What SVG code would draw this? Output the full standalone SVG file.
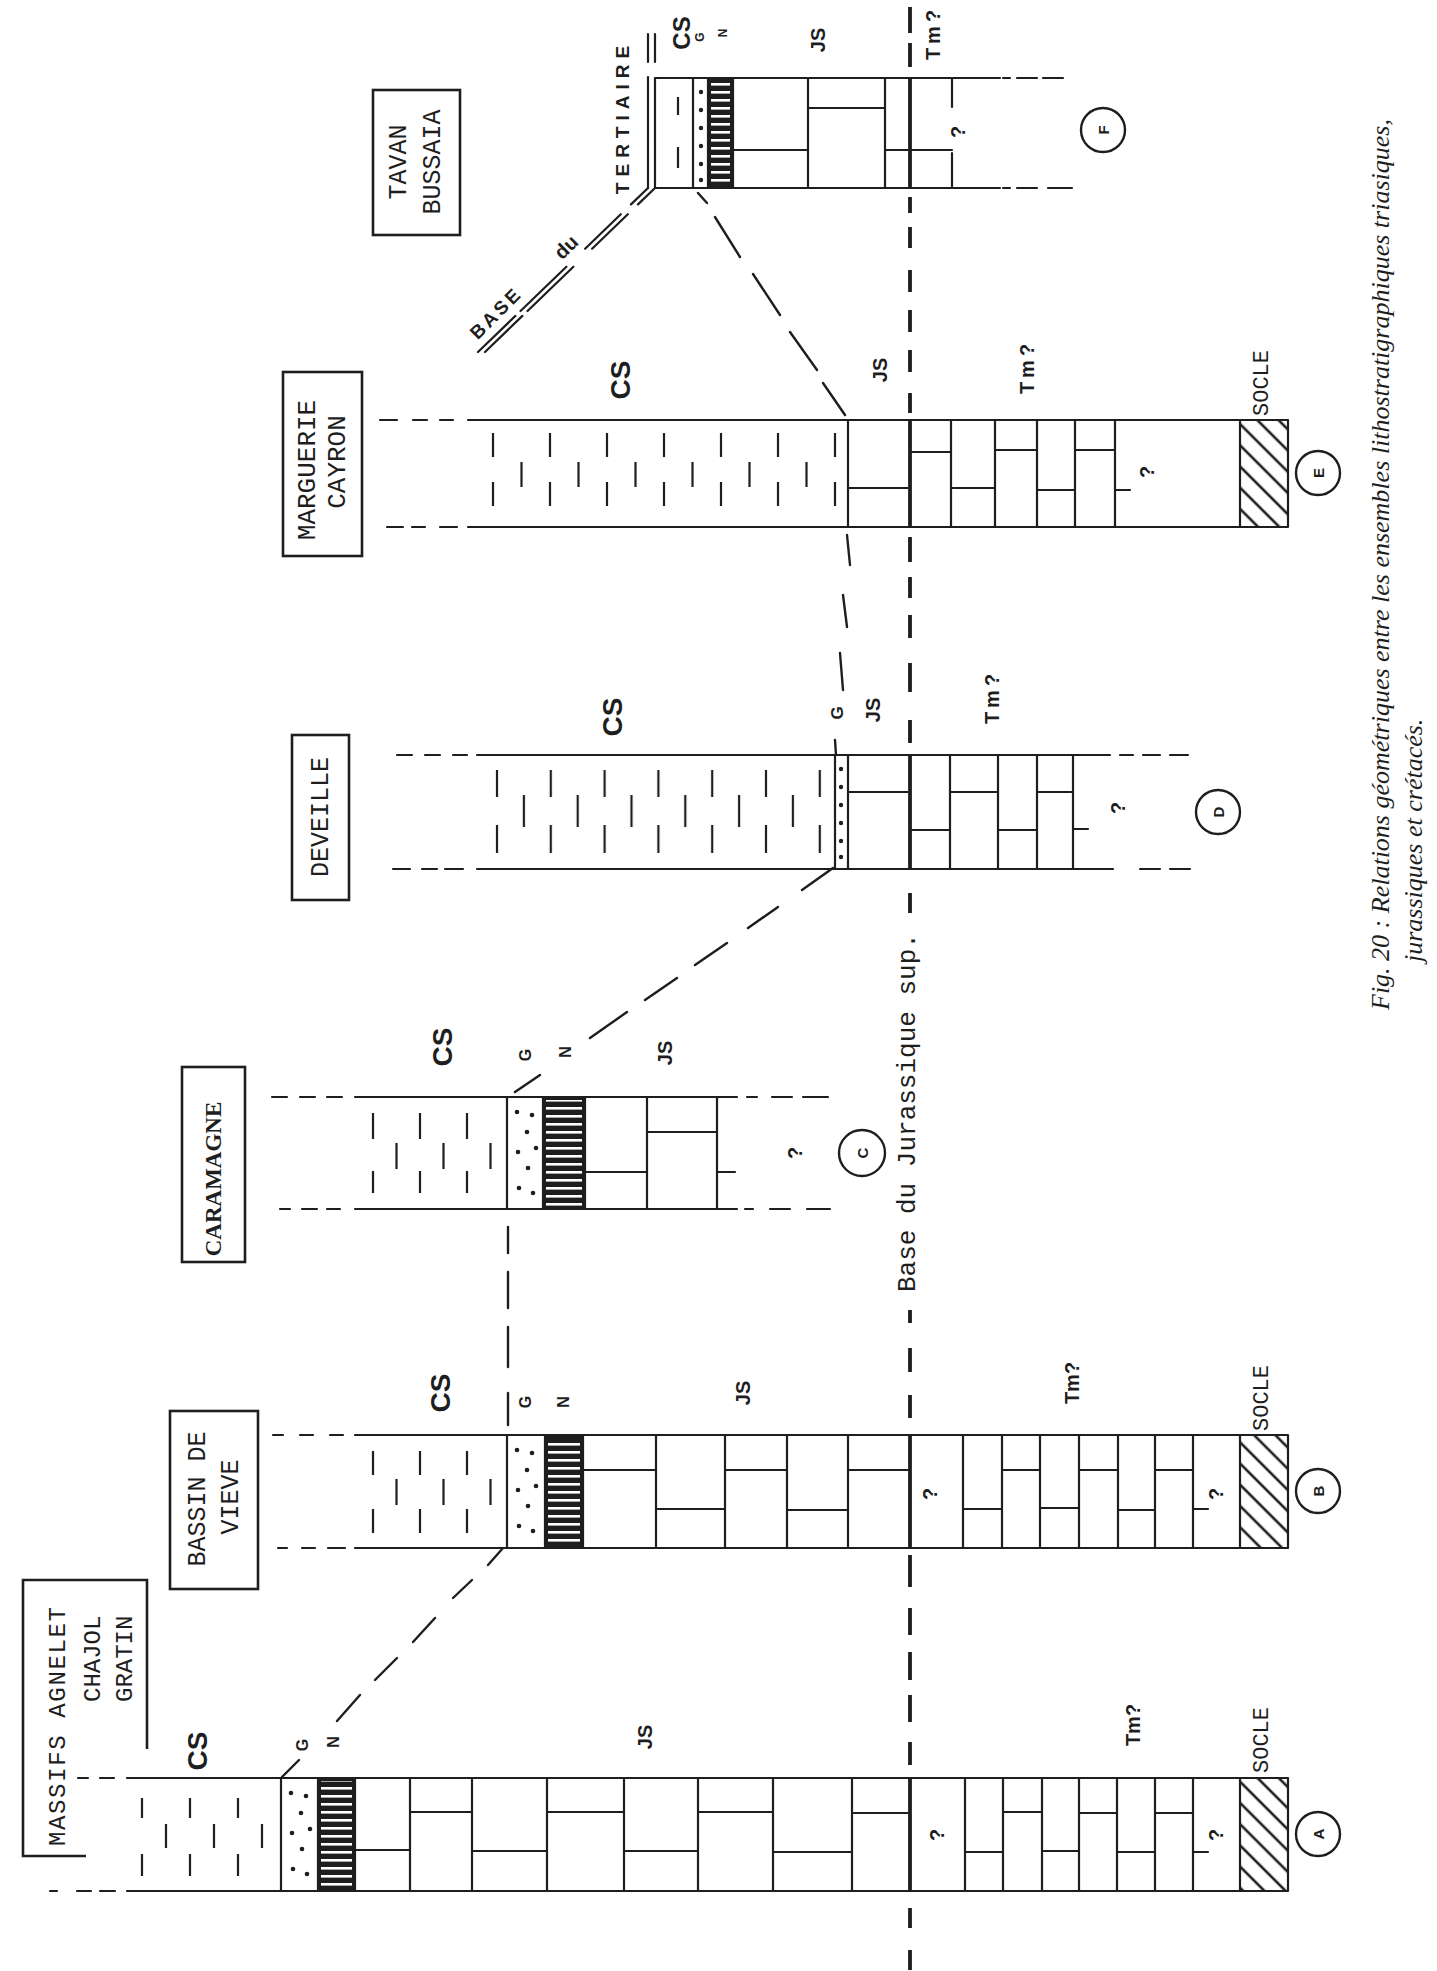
<svg xmlns="http://www.w3.org/2000/svg" xmlns:xlink="http://www.w3.org/1999/xlink" width="1437" height="1971" viewBox="0 0 1437 1971">
<style>
.l{stroke:#1e1e1e;stroke-width:2.2;fill:none;stroke-linecap:round}
.lb{stroke:#1e1e1e;stroke-width:3.8;fill:none}
.d{stroke:#1e1e1e;stroke-width:2.4;fill:none;stroke-linecap:round}
.box{stroke:#1e1e1e;stroke-width:2.6;fill:none}
.pd{stroke:#1e1e1e;stroke-width:2.2;fill:none}
.nb{fill:#1e1e1e}
.dot{fill:#1e1e1e}
.tb{font-family:"Liberation Mono","Courier New",monospace;fill:#1e1e1e;dominant-baseline:central}
.lab{font-family:"Liberation Sans",Arial,sans-serif;font-weight:bold;fill:#1e1e1e;text-anchor:middle;dominant-baseline:central}
.cap{font-family:"Liberation Serif","Times New Roman",serif;font-style:italic;fill:#1e1e1e;font-size:26px;dominant-baseline:central}
.circ{stroke:#1e1e1e;stroke-width:2.4;fill:none}
</style>
<defs>
<pattern id="csA" patternUnits="userSpaceOnUse" x="140" y="1778" width="48" height="300"><path class="pd" d="M2 20V40M2 76V98M26 46V70"/></pattern>
<pattern id="csB" patternUnits="userSpaceOnUse" x="371" y="1435" width="47" height="300"><path class="pd" d="M2 16V40M2 74V98M25.5 44V70"/></pattern>
<pattern id="csC" patternUnits="userSpaceOnUse" x="371" y="1097" width="47" height="300"><path class="pd" d="M2 16V42M2 74V96M25.5 46V72"/></pattern>
<pattern id="csD" patternUnits="userSpaceOnUse" x="495" y="755" width="53.8" height="300"><path class="pd" d="M2 15V42M2 70V98M28.9 40V72"/></pattern>
<pattern id="csE" patternUnits="userSpaceOnUse" x="491" y="420" width="57" height="300"><path class="pd" d="M2 13V37M2 62V86M30.5 42V67"/></pattern>
<pattern id="csF" patternUnits="userSpaceOnUse" x="676" y="78" width="100" height="300"><path class="pd" d="M2 19V37M2 69V90"/></pattern>
<pattern id="nh" patternUnits="userSpaceOnUse" x="0" y="0" width="20" height="8"><rect x="0" y="3" width="20" height="2.6" fill="#ffffff"/></pattern>
<pattern id="hatch" patternUnits="userSpaceOnUse" width="15" height="15" patternTransform="rotate(-45)"><path d="M7 -2V17" stroke="#1e1e1e" stroke-width="2.6"/></pattern>
<g id="gd3">
<circle class="dot" cx="10" cy="15" r="2.3"/><circle class="dot" cx="25" cy="18" r="2.3"/><circle class="dot" cx="20" cy="35" r="2.3"/><circle class="dot" cx="11" cy="55" r="2.3"/><circle class="dot" cx="29" cy="51" r="2.3"/><circle class="dot" cx="21" cy="71" r="2.3"/><circle class="dot" cx="12" cy="91" r="2.3"/><circle class="dot" cx="26" cy="96" r="2.3"/>
</g>
<g id="gd1">
<circle class="dot" cx="0" cy="14" r="2.2"/><circle class="dot" cx="0" cy="32" r="2.2"/><circle class="dot" cx="0" cy="50" r="2.2"/><circle class="dot" cx="0" cy="68" r="2.2"/><circle class="dot" cx="0" cy="86" r="2.2"/><circle class="dot" cx="0" cy="102" r="2.2"/>
</g>
</defs>
<rect x="0" y="0" width="1437" height="1971" fill="#ffffff"/>

<!-- Column F: TAVAN BUSSAIA -->
<g id="colF">
<rect x="655" y="78" width="38" height="110" fill="url(#csF)"/>
<use href="#gd1" x="701" y="78"/>
<rect class="nb" x="708" y="78" width="25" height="110"/>
<rect x="711" y="81" width="19" height="104" fill="url(#nh)"/>
<path class="l" d="M655 78H1000M655 188H1000M655 78V188M693 78V188M708 78V188M733 78V188M808 78V188M885 78V188M952 78V107M952 153V188M733 150H808M808 108H885M885 150H952"/>
<path class="l" d="M1003 78H1010M1017 78H1037M1043 78H1063M1003 188H1010M1017 188H1037M1048 188H1072"/>
<path class="lb" d="M910 78V188"/>
<text class="lab" font-size="24" transform="translate(681 33) rotate(-90)">CS</text>
<text class="lab" font-size="12" transform="translate(700 37) rotate(-90)">G</text>
<text class="lab" font-size="12" transform="translate(723 33) rotate(-90)">N</text>
<text class="lab" font-size="20" transform="translate(818 40) rotate(-90)">JS</text>
<text class="lab" font-size="20" letter-spacing="4" transform="translate(933 33) rotate(-90)">Tm?</text>
<text class="lab" font-size="20" transform="translate(958 132) rotate(-90)">?</text>
<circle class="circ" cx="1103" cy="130" r="22"/>
<text class="lab" font-size="15" transform="translate(1103 130) rotate(-90)">F</text>
</g>

<!-- Column E: MARGUERIE CAYRON -->
<g id="colE">
<rect x="468" y="420" width="378" height="107" fill="url(#csE)"/>
<rect x="1240" y="420" width="48" height="107" fill="url(#hatch)"/>
<path class="l" d="M468 420H1288M468 527H1288M848 420V527M951 420V527M995 420V527M1037 420V527M1075 420V527M1115 420V527M1240 420V527M1288 420V527M848 488H910M910 452H951M951 488H995M995 450H1037M1037 490H1075M1075 450H1115M1115 490H1130"/>
<path class="l" d="M380 420H397M413 420H427M440 420H453M387 527H403M412 527H425M440 527H457"/>
<path class="lb" d="M910 420V527"/>
<text class="lab" font-size="28" transform="translate(620 380) rotate(-90)">CS</text>
<text class="lab" font-size="20" transform="translate(880 370) rotate(-90)">JS</text>
<text class="lab" font-size="20" letter-spacing="4" transform="translate(1027 367) rotate(-90)">Tm?</text>
<text class="lab" font-size="20" transform="translate(1147 472) rotate(-90)">?</text>
<text class="tb" font-size="22" text-anchor="middle" transform="translate(1262 383) rotate(-90)">SOCLE</text>
<circle class="circ" cx="1318" cy="473" r="22"/>
<text class="lab" font-size="15" transform="translate(1318 473) rotate(-90)">E</text>
</g>

<!-- Column D: DEVEILLE -->
<g id="colD">
<rect x="477" y="755" width="355" height="114" fill="url(#csD)"/>
<use href="#gd1" x="841" y="755"/>
<path class="l" d="M477 755H1110M477 869H1110M835 755V869M848 755V869M950 755V869M998 755V869M1037 755V869M1073 755V869M848 792H910M910 830H950M950 792H998M998 830H1037M1037 792H1073M1073 829H1088"/>
<path class="l" d="M397 755H412M425 755H440M453 755H467M393 869H410M422 869H437M445 869H463M1120 755H1133M1143 755H1160M1170 755H1188M1107 869H1113M1140 869H1160M1170 869H1190"/>
<path class="lb" d="M910 755V869"/>
<text class="lab" font-size="28" transform="translate(612 717) rotate(-90)">CS</text>
<text class="lab" font-size="17" transform="translate(837 713) rotate(-90)">G</text>
<text class="lab" font-size="20" transform="translate(873 710) rotate(-90)">JS</text>
<text class="lab" font-size="20" letter-spacing="4" transform="translate(992 697) rotate(-90)">Tm?</text>
<text class="lab" font-size="20" transform="translate(1118 808) rotate(-90)">?</text>
<circle class="circ" cx="1218" cy="812" r="22"/>
<text class="lab" font-size="15" transform="translate(1218 812) rotate(-90)">D</text>
</g>

<!-- Column C: CARAMAGNE -->
<g id="colC">
<rect x="355" y="1097" width="150" height="112" fill="url(#csC)"/>
<use href="#gd3" x="507" y="1097"/>
<rect class="nb" x="543" y="1097" width="42" height="112"/>
<rect x="546" y="1100" width="36" height="106" fill="url(#nh)"/>
<path class="l" d="M355 1097H737M355 1209H737M507 1097V1209M543 1097V1209M585 1097V1209M647 1097V1209M717 1097V1209M585 1172H647M647 1132H717M717 1172H735"/>
<path class="l" d="M272 1097H287M300 1097H315M327 1097H342M280 1209H290M302 1209H317M327 1209H340M747 1097H757M772 1097H792M803 1097H828M745 1209H753M770 1209H790M807 1209H830"/>
<text class="lab" font-size="28" transform="translate(442 1047) rotate(-90)">CS</text>
<text class="lab" font-size="16" transform="translate(525 1055) rotate(-90)">G</text>
<text class="lab" font-size="16" transform="translate(565 1052) rotate(-90)">N</text>
<text class="lab" font-size="20" transform="translate(665 1053) rotate(-90)">JS</text>
<text class="lab" font-size="20" transform="translate(795 1153) rotate(-90)">?</text>
<circle class="circ" cx="862" cy="1153" r="23"/>
<text class="lab" font-size="15" transform="translate(862 1153) rotate(-90)">C</text>
</g>

<!-- Column B: BASSIN DE VIEVE -->
<g id="colB">
<rect x="355" y="1435" width="150" height="113" fill="url(#csB)"/>
<use href="#gd3" x="507" y="1435"/>
<rect class="nb" x="545" y="1435" width="38" height="113"/>
<rect x="548" y="1438" width="32" height="107" fill="url(#nh)"/>
<rect x="1240" y="1435" width="48" height="113" fill="url(#hatch)"/>
<path class="l" d="M355 1435H1288M355 1548H1288M507 1435V1548M545 1435V1548M583 1435V1548M656 1435V1548M725 1435V1548M787 1435V1548M848 1435V1548M963 1435V1548M1002 1435V1548M1040 1435V1548M1079 1435V1548M1118 1435V1548M1155 1435V1548M1193 1435V1548M1240 1435V1548M1288 1435V1548M583 1470H656M656 1509H725M725 1470H787M787 1510H848M848 1470H910M963 1509H1002M1002 1470H1040M1040 1508H1079M1079 1470H1118M1118 1510H1155M1155 1470H1193M1193 1509H1208"/>
<path class="l" d="M273 1435H283M300 1435H313M330 1435H343M278 1548H287M302 1548H315M328 1548H345"/>
<path class="lb" d="M910 1435V1548"/>
<text class="lab" font-size="28" transform="translate(440 1393) rotate(-90)">CS</text>
<text class="lab" font-size="16" transform="translate(525 1402) rotate(-90)">G</text>
<text class="lab" font-size="16" transform="translate(563 1402) rotate(-90)">N</text>
<text class="lab" font-size="20" transform="translate(743 1393) rotate(-90)">JS</text>
<text class="lab" font-size="20" transform="translate(1072 1383) rotate(-90)">Tm?</text>
<text class="lab" font-size="20" transform="translate(930 1494) rotate(-90)">?</text>
<text class="lab" font-size="20" transform="translate(1216 1494) rotate(-90)">?</text>
<text class="tb" font-size="22" text-anchor="middle" transform="translate(1262 1398) rotate(-90)">SOCLE</text>
<circle class="circ" cx="1318" cy="1491" r="22"/>
<text class="lab" font-size="15" transform="translate(1318 1491) rotate(-90)">B</text>
</g>

<!-- Column A: MASSIFS AGNELET CHAJOL GRATIN -->
<g id="colA">
<rect x="127" y="1778" width="152" height="113" fill="url(#csA)"/>
<use href="#gd3" x="281" y="1778"/>
<rect class="nb" x="318" y="1778" width="37" height="113"/>
<rect x="321" y="1781" width="31" height="107" fill="url(#nh)"/>
<rect x="1240" y="1778" width="48" height="113" fill="url(#hatch)"/>
<path class="l" d="M127 1778H1288M127 1891H1288M281 1778V1891M318 1778V1891M355 1778V1891M410 1778V1891M472 1778V1891M547 1778V1891M624 1778V1891M698 1778V1891M773 1778V1891M852 1778V1891M965 1778V1891M1003 1778V1891M1042 1778V1891M1079 1778V1891M1117 1778V1891M1155 1778V1891M1193 1778V1891M1240 1778V1891M1288 1778V1891M355 1850H410M410 1812H472M472 1851H547M547 1812H624M624 1851H698M698 1812H773M773 1852H852M852 1813H910M965 1852H1003M1003 1812H1042M1042 1851H1079M1079 1813H1117M1117 1852H1155M1155 1813H1193M1193 1852H1208"/>
<path class="l" d="M78 1778H88M100 1778H114M50 1891H57M77 1891H91M100 1891H115"/>
<path class="lb" d="M910 1778V1891"/>
<text class="lab" font-size="28" transform="translate(197 1751) rotate(-90)">CS</text>
<text class="lab" font-size="16" transform="translate(302 1745) rotate(-90)">G</text>
<text class="lab" font-size="16" transform="translate(333 1742) rotate(-90)">N</text>
<text class="lab" font-size="20" transform="translate(645 1737) rotate(-90)">JS</text>
<text class="lab" font-size="20" transform="translate(1133 1725) rotate(-90)">Tm?</text>
<text class="lab" font-size="20" transform="translate(937 1835) rotate(-90)">?</text>
<text class="lab" font-size="20" transform="translate(1216 1835) rotate(-90)">?</text>
<text class="tb" font-size="22" text-anchor="middle" transform="translate(1262 1740) rotate(-90)">SOCLE</text>
<circle class="circ" cx="1318" cy="1834" r="22"/>
<text class="lab" font-size="15" transform="translate(1318 1834) rotate(-90)">A</text>
</g>

<!-- Site boxes -->
<g id="boxF">
<rect class="box" x="373" y="90" width="87" height="145"/>
<text class="tb" font-size="25" text-anchor="middle" transform="translate(399 162) rotate(-90)">TAVAN</text>
<text class="tb" font-size="25" text-anchor="middle" transform="translate(433 162) rotate(-90)">BUSSAIA</text>
</g>
<g id="boxE">
<rect class="box" x="283" y="372" width="79" height="184"/>
<text class="tb" font-size="26" text-anchor="middle" transform="translate(308 470) rotate(-90)">MARGUERIE</text>
<text class="tb" font-size="26" text-anchor="middle" transform="translate(338 462) rotate(-90)">CAYRON</text>
</g>
<g id="boxD">
<rect class="box" x="292" y="735" width="57" height="165"/>
<text class="tb" font-size="25" text-anchor="middle" transform="translate(321 817) rotate(-90)">DEVEILLE</text>
</g>
<g id="boxC">
<rect class="box" x="182" y="1067" width="63" height="195"/>
<text font-family="Liberation Serif, Times New Roman, serif" font-weight="bold" font-size="23" fill="#1e1e1e" text-anchor="middle" dominant-baseline="central" transform="translate(213 1179) rotate(-90)">CARAMAGNE</text>
</g>
<g id="boxB">
<rect class="box" x="170" y="1411" width="88" height="178"/>
<text class="tb" font-size="25" text-anchor="middle" transform="translate(198 1499) rotate(-90)">BASSIN DE</text>
<text class="tb" font-size="25" text-anchor="middle" transform="translate(231 1497) rotate(-90)">VIEVE</text>
</g>
<g id="boxA">
<path class="box" d="M147 1749V1580H23V1856H86"/>
<text class="tb" font-size="24" text-anchor="start" textLength="239" lengthAdjust="spacing" transform="translate(58 1846) rotate(-90)">MASSIFS AGNELET</text>
<text class="tb" font-size="24" text-anchor="start" transform="translate(93 1702) rotate(-90)">CHAJOL</text>
<text class="tb" font-size="24" text-anchor="start" transform="translate(125 1702) rotate(-90)">GRATIN</text>
</g>

<!-- Connectors: correlation lines -->
<g id="connectors">
<path class="lb" d="M910 7V33M910 43V67M910 197V213M910 227V248M910 270V292M910 310V332M910 350V372M910 393V413M910 537V562M910 577V598M910 615V638M910 663V692M910 720V743M910 893V913M910 1310V1323M910 1348V1372M910 1395V1418M910 1555V1587M910 1608V1635M910 1652V1680M910 1695V1722M910 1742V1765M910 1908V1928M910 1950V1970" stroke-width="2.6"/>
<path class="d" d="M282 1777L299 1760M337 1721L360 1695M375 1680L397 1658M413 1642L435 1618M453 1598L472 1580M488 1565L503 1548"/>
<path class="d" d="M508 1227V1253M508 1272V1308M508 1327V1367M508 1393V1425"/>
<path class="d" d="M515 1092L540 1075M590 1038L627 1012M645 1000L677 978M695 965L727 943M748 928L778 907M802 890L833 868"/>
<path class="d" d="M835 740L836 755M840 653L843 690M843 595L847 627M847 535L850 565"/>
<path class="d" d="M698 193L707 203M715 217L740 257M753 274L780 315M790 332L817 370M823 383L845 415"/>
<path class="l" d="M648 34V62M655 34V62M648 77V188"/>
<path class="l" d="M655 188L638 204.4M627.8 214.2L592.1 248.7M573.4 266.7L527.5 311M522.4 315.9L485 352"/>
<path class="l" d="M648 188L631 204.4M620.8 214.2L585.1 248.7M566.4 266.7L520.5 311M515.4 315.9L478 352"/>
<text class="lab" font-size="19" letter-spacing="6" transform="translate(622 117) rotate(-90)">TERTIAIRE</text>
<text class="lab" font-size="20" transform="translate(566 247) rotate(-45)">du</text>
<text class="lab" font-size="19" letter-spacing="3" transform="translate(496 313) rotate(-45)">BASE</text>
<text class="tb" font-size="26" text-anchor="start" transform="translate(908 1292) rotate(-90)">Base du Jurassique sup.</text>
</g>

<!-- Caption -->
<g id="caption">
<text class="cap" text-anchor="start" transform="translate(1380 1010) rotate(-90)">Fig. 20 : Relations géométriques entre les ensembles lithostratigraphiques triasiques,</text>
<text class="cap" text-anchor="start" transform="translate(1413 962) rotate(-90)">jurassiques et crétacés.</text>
</g>
</svg>
